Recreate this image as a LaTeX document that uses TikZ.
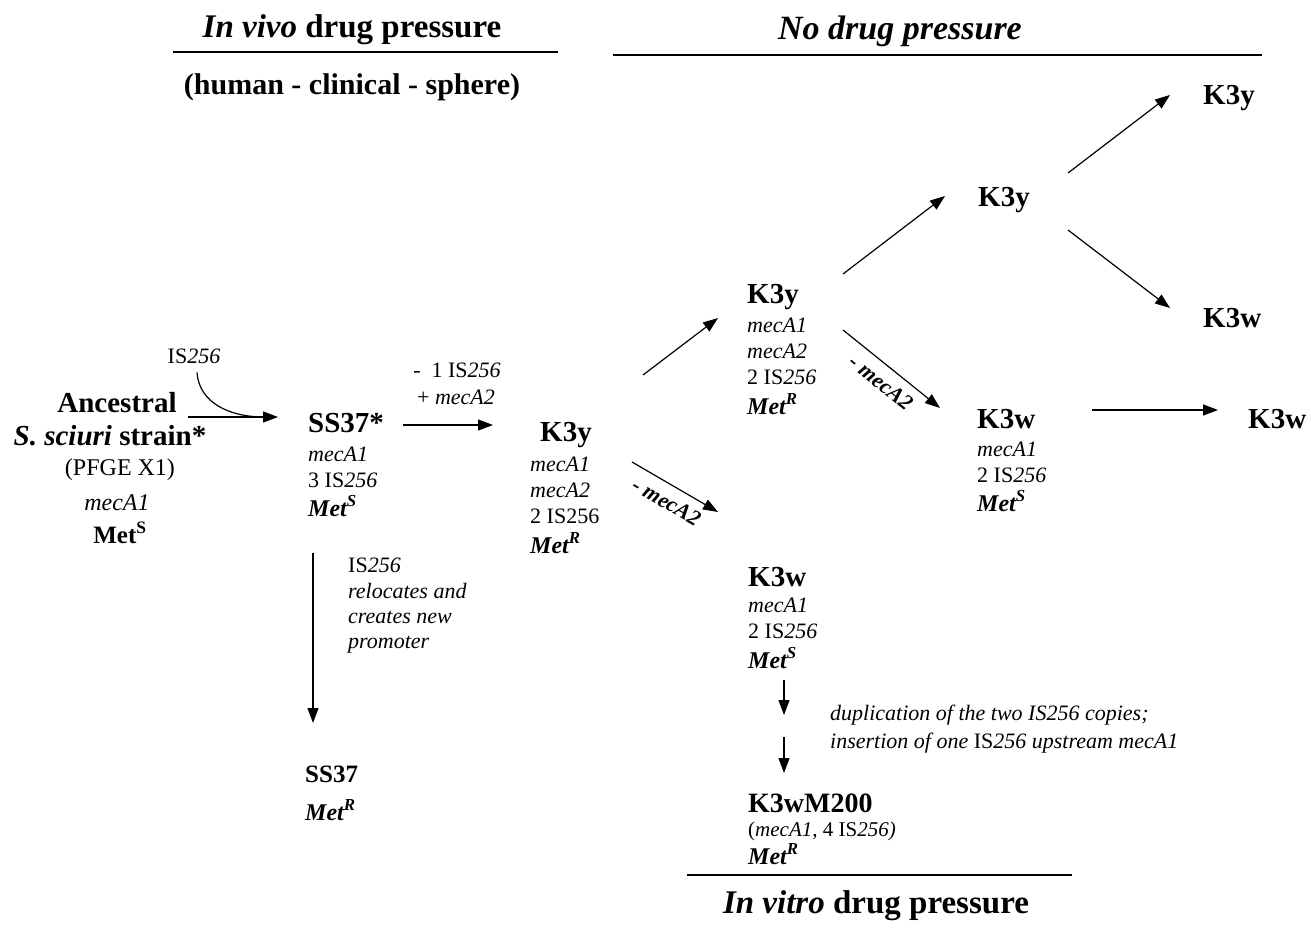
\documentclass[tikz,border=0pt]{standalone}
\usepackage{fontspec}
\setmainfont{Liberation Serif}
\usetikzlibrary{arrows.meta,calc}
\tikzset{
 arr/.style={-{Triangle[length=15pt,width=11pt]}, line width=1.2pt},
 rule/.style={line width=1.3pt},
 hd/.style={font=\fontsize{33}{36}\selectfont\bfseries, inner sep=0pt, anchor=base},
 tl/.style={font=\fontsize{29}{32}\selectfont\bfseries, inner sep=0pt, anchor=base west},
 tlc/.style={font=\fontsize{29}{32}\selectfont\bfseries, inner sep=0pt, anchor=base},
 sm/.style={font=\fontsize{22}{26}\selectfont, inner sep=0pt, anchor=base west},
 smc/.style={font=\fontsize{24}{26}\selectfont, inner sep=0pt, anchor=base},
 mt/.style={font=\fontsize{24}{28}\selectfont\bfseries\itshape, inner sep=0pt, anchor=base west},
 lab/.style={font=\fontsize{22}{24}\selectfont\bfseries\itshape, inner sep=0pt},
}
\begin{document}
\begin{tikzpicture}[x=1pt,y=-1pt]
\useasboundingbox (0,0) rectangle (1311,933);
% headers
\node[hd] (hvivo) at (352,38) {\textit{In vivo} drug pressure};
\node[hd, font=\fontsize{30}{34}\selectfont\bfseries] (hhuman) at (352,95) {(human - clinical - sphere)};
\node[hd, font=\fontsize{34}{36}\selectfont\bfseries\itshape] (hno) at (900,40) {No drug pressure};
\node[hd] (hvitro) at (876,913) {\textit{In vitro} drug pressure};
\draw[rule] (173,52) -- (558,52);
\draw[rule] (613,55) -- (1262,55);
\draw[rule] (687,875) -- (1072,875);
% ancestral
\node[tlc] (anc1) at (117,412) {Ancestral};
\node[tlc] (anc2) at (110,445) {\textit{S. sciuri} strain*};
\node[smc] (anc3) at (120,475) {(PFGE X1)};
\node[smc] (anc4) at (117,510) {\textit{mecA1}};
\node[tlc, font=\fontsize{25}{28}\selectfont\bfseries] (anc5) at (120,543) {Met\textsuperscript{S}};
\node[smc, font=\fontsize{22}{26}\selectfont] (isl) at (194,363) {IS\textit{256}};
% SS37*
\node[tl] (ss1) at (308,432) {SS37*};
\node[sm] (ss2) at (308,461) {\textit{mecA1}};
\node[sm] (ss3) at (308,487) {3 IS\textit{256}};
\node[mt] (ss4) at (308,516) {Met\textsuperscript{S}};
\node[sm, anchor=base] (lb1) at (457,377) {-\ \ 1 IS\textit{256}};
\node[sm, anchor=base] (lb2) at (456,404) {+ \textit{mecA2}};
% relocation
\node[sm] (rl1) at (348,572) {IS\textit{256}};
\node[sm] (rl2) at (348,598) {\textit{relocates and}};
\node[sm] (rl3) at (348,623) {\textit{creates new}};
\node[sm] (rl4) at (348,648) {\textit{promoter}};
\node[tl, font=\fontsize{25}{28}\selectfont\bfseries] (ss5) at (305,782) {SS37};
\node[mt] (ss6) at (305,820) {Met\textsuperscript{R}};
% K3y middle
\node[tl] (km1) at (540,441) {K3y};
\node[sm] (km2) at (530,471) {\textit{mecA1}};
\node[sm] (km3) at (530,497) {\textit{mecA2}};
\node[sm] (km4) at (530,523) {2 IS256};
\node[mt] (km5) at (530,553) {Met\textsuperscript{R}};
% K3y row 2
\node[tl] (k2a) at (747,303) {K3y};
\node[sm] (k2b) at (747,332) {\textit{mecA1}};
\node[sm] (k2c) at (747,358) {\textit{mecA2}};
\node[sm] (k2d) at (747,384) {2 IS\textit{256}};
\node[mt] (k2e) at (747,414) {Met\textsuperscript{R}};
% K3y upper middle, top right
\node[tl] (kym) at (978,207) {K3y};
\node[tl] (ktr) at (1203,105) {K3y};
\node[tl] (kwr) at (1203,327) {K3w};
% K3w row 3
\node[tl] (kr1) at (977,428) {K3w};
\node[sm] (kr2) at (977,456) {\textit{mecA1}};
\node[sm] (kr3) at (977,482) {2 IS\textit{256}};
\node[mt] (kr4) at (977,511) {Met\textsuperscript{S}};
\node[tl] (kf) at (1248,428) {K3w};
% K3w lower
\node[tl] (kw1) at (748,586) {K3w};
\node[sm] (kw2) at (748,612) {\textit{mecA1}};
\node[sm] (kw3) at (748,638) {2 IS\textit{256}};
\node[mt] (kw4) at (748,668) {Met\textsuperscript{S}};
\node[sm] (dup1) at (830,720) {\textit{duplication of the two IS256 copies;}};
\node[sm] (dup2) at (830,748) {\textit{insertion of one} IS\textit{256 upstream mecA1}};
\node[tl, font=\fontsize{28}{30}\selectfont\bfseries] (km200) at (748,812) {K3wM200};
\node[sm, font=\fontsize{21}{24}\selectfont] (km200b) at (748,836) {(\textit{mecA1}, 4 IS\textit{256)}};
\node[mt] (km200c) at (748,864) {Met\textsuperscript{R}};
% connectors
\draw[line width=1.2pt] ($(isl.south)+(3,9)$) .. controls +(2,30) and +(-35,0) .. ($(ss1.base west)+(-44,-15)$);
\draw[arr] ($(anc1.base)+(71,5)$) -- ($(ss1.base west)+(-30,-15)$);
\draw[arr] ($(ss1.base west)+(95,-7)$) -- ($(km1.base west)+(-47,-16)$);
\draw[arr] ($(ss4.base west)+(5,37)$) -- ($(ss5.base west)+(8,-59)$);
\draw[arr] ($(km1.base west)+(103,-66)$) -- ($(k2a.base west)+(-29,15)$);
\draw[arr] ($(km1.base west)+(92,21)$) -- node[lab, midway, below=9pt, sloped] {- mecA2} ($(kw1.base west)+(-30,-74)$);
\draw[arr] ($(k2a.base west)+(96,27)$) -- node[lab, midway, below=9pt, sloped] {- mecA2} ($(kr1.base west)+(-37,-20)$);
\draw[arr] ($(k2a.base west)+(96,-29)$) -- ($(kym.base west)+(-33,-11)$);
\draw[arr] ($(kym.base west)+(90,-34)$) -- ($(ktr.base west)+(-33,-10)$);
\draw[arr] ($(kym.base west)+(90,23)$) -- ($(kwr.base west)+(-33,-19)$);
\draw[arr] ($(kr1.base west)+(115,-18)$) -- ($(kf.base west)+(-30,-18)$);
\draw[arr] ($(kw4.base west)+(36,12)$) -- ($(dup1.base west)+(-46,-5)$);
\draw[arr] ($(dup2.base west)+(-46,-11)$) -- ($(km200.base west)+(36,-39)$);
\end{tikzpicture}
\end{document}
